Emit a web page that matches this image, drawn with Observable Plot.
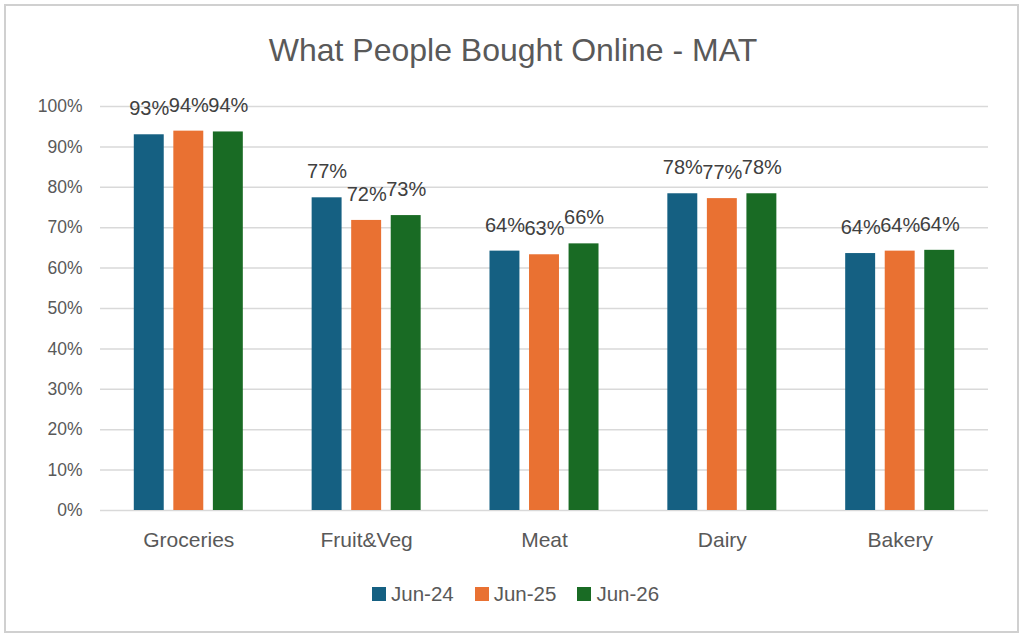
<!DOCTYPE html>
<html>
<head>
<meta charset="utf-8">
<script src="https://cdn.jsdelivr.net/npm/d3@7"></script>
<script src="https://cdn.jsdelivr.net/npm/@observablehq/plot@0.6"></script>
<style>
  html, body { margin: 0; padding: 0; background: #fff; }
  #wrap { position: relative; width: 1024px; height: 640px; overflow: hidden; background: #fff;
          font-family: "Liberation Sans", Arial, sans-serif; }
  #border { position: absolute; left: 4px; top: 4px; width: 1015px; height: 629px;
            box-sizing: border-box; border: 2px solid #d0d0d0; }
  #title { position: absolute; left: 0; top: 34px; width: 1026px; text-align: center;
           font-size: 32px; line-height: 32px; color: #595959; }
  #chart { position: absolute; left: 0; top: 80px; }
  #legend { position: absolute; left: 372px; top: 584px; display: flex; align-items: center;
            font-size: 20.5px; line-height: 20.5px; color: #595959; }
  .item { display: flex; align-items: center; margin-right: 21px; }
  .sw { width: 14px; height: 14px; margin-right: 5px; }
</style>
</head>
<body>
<div id="wrap">
  <div id="border"></div>
  <div id="title">What People Bought Online - MAT</div>
  <div id="chart"></div>
  <div id="legend"></div>
</div>
<script>
const categories = ["Groceries", "Fruit&Veg", "Meat", "Dairy", "Bakery"];
const seriesNames = ["Jun-24", "Jun-25", "Jun-26"];
const jun24 = [0.930, 0.774, 0.642, 0.784, 0.636];
const jun25 = [0.939, 0.718, 0.633, 0.772, 0.642];
const jun26 = [0.937, 0.730, 0.660, 0.784, 0.644];
const seriesColors = ["#156082", "#E97132", "#196B24"];
const yTicks = [0, 0.1, 0.2, 0.3, 0.4, 0.5, 0.6, 0.7, 0.8, 0.9, 1.0];

const seriesValues = [jun24, jun25, jun26];
const rows = [];
seriesNames.forEach((s, i) => categories.forEach((c, j) => rows.push({series: s, category: c, value: seriesValues[i][j]})));

const W = 1024, H = 490;
const mL = 100, mR = 36, mT = 26, mB = 60;
const pInner = 0.387, pOuter = 0.19;
const band = d3.scaleBand(categories, [mL, W - mR]).paddingInner(pInner).paddingOuter(pOuter);
const bw = band.bandwidth();
const gap = 0.088 * bw;
const barW = (bw - 2 * gap) / 3;
const step = barW + gap;
const pct = d3.format(".0%");

const marks = [
  Plot.ruleY(yTicks, {stroke: "#d9d9d9", strokeWidth: 1.5}),
  Plot.axisY(yTicks, {tickFormat: pct, tickSize: 0, tickPadding: 18, fontSize: 17.5, label: null}),
  Plot.axisX({tickSize: 0, tickPadding: 22, fontSize: 21, label: null})
];
seriesNames.forEach((s, i) => {
  const data = rows.filter(d => d.series === s);
  marks.push(Plot.barY(data, {x: "category", y: "value", fill: seriesColors[i],
    insetLeft: i * step, insetRight: (2 - i) * step}));
});
seriesNames.forEach((s, i) => {
  const data = rows.filter(d => d.series === s);
  marks.push(Plot.text(data, {x: "category", y: "value", text: d => pct(d.value),
    dx: (i - 1) * step, dy: -26, fontSize: 20, fill: "#404040"}));
});

const chart = Plot.plot({
  width: W, height: H,
  marginLeft: mL, marginRight: mR, marginTop: mT, marginBottom: mB,
  style: {fontFamily: "'Liberation Sans', Arial, sans-serif", color: "#595959", background: "transparent"},
  x: {type: "band", domain: categories, paddingInner: pInner, paddingOuter: pOuter, round: false, axis: null, label: null},
  y: {domain: [0, 1], axis: null, label: null},
  marks
});
document.getElementById("chart").appendChild(chart);

const legend = document.getElementById("legend");
seriesNames.forEach((s, i) => {
  const item = document.createElement("div");
  item.className = "item";
  const sw = document.createElement("div");
  sw.className = "sw";
  sw.style.background = seriesColors[i];
  const t = document.createElement("span");
  t.textContent = s;
  item.appendChild(sw);
  item.appendChild(t);
  legend.appendChild(item);
});
</script>
</body>
</html>
